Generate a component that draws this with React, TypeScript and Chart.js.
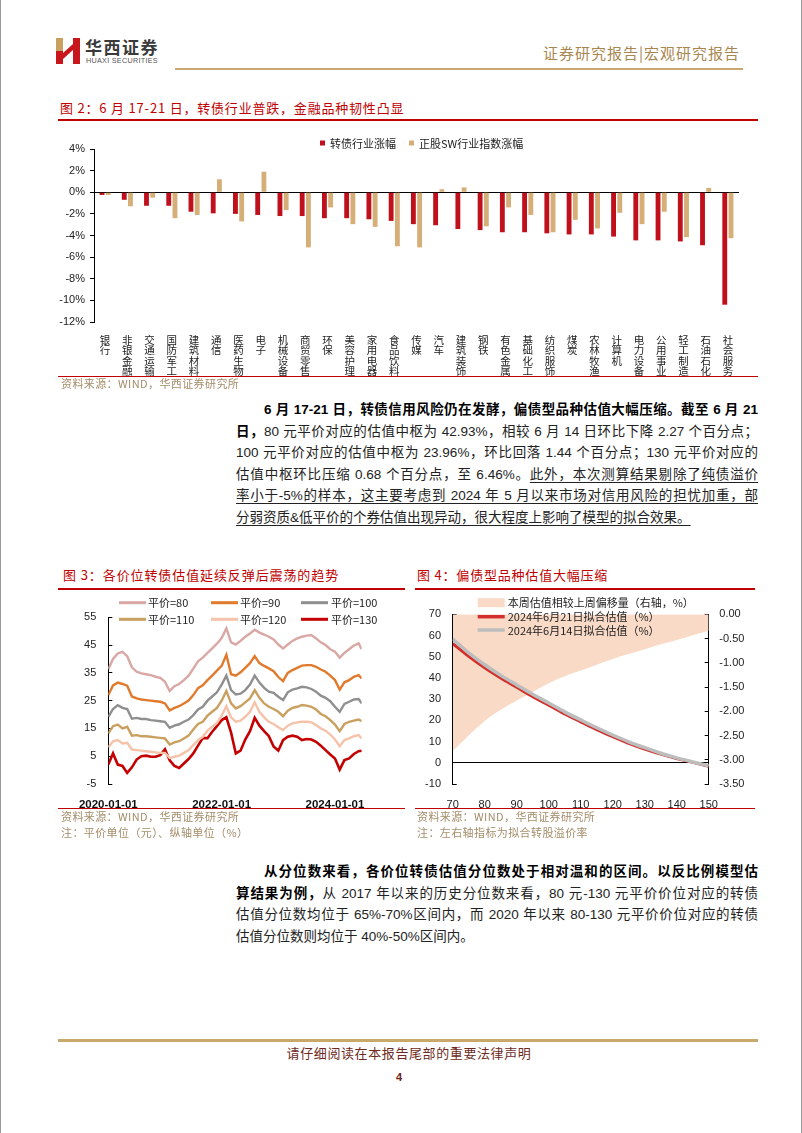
import React, { useEffect, useRef } from 'react';
import { Chart, registerables } from 'chart.js';

Chart.register(...registerables);

const FONT = "'Liberation Sans', 'Noto Sans CJK SC', sans-serif";
const CJK = "'Noto Sans CJK SC', 'Liberation Sans', sans-serif";

// ---------------- Figure 2 data ----------------
const industries = ['银行', '非银金融', '交通运输', '国防军工', '建筑材料', '通信', '医药生物', '电子', '机械设备', '商贸零售', '环保', '美容护理', '家用电器', '食品饮料', '传媒', '汽车', '建筑装饰', '钢铁', '有色金属', '基础化工', '纺织服饰', '煤炭', '农林牧渔', '计算机', '电力设备', '公用事业', '轻工制造', '石油石化', '社会服务'];
const cbChange = [-0.25, -0.7, -1.25, -1.25, -1.8, -1.95, -2.0, -2.1, -2.2, -2.2, -2.4, -2.4, -2.5, -2.65, -2.95, -3.05, -3.4, -3.5, -3.7, -3.7, -3.8, -3.9, -3.9, -4.1, -4.45, -4.45, -4.55, -4.9, -10.4];
const stockChange = [-0.25, -1.3, -0.5, -2.4, -2.1, 1.2, -2.7, 1.9, -1.65, -5.1, -1.4, -2.95, -3.2, -5.0, -5.1, 0.28, 0.45, -3.15, -1.4, -2.1, -3.7, -2.55, -3.35, -1.9, -2.95, -1.8, -4.15, 0.4, -4.25];
const fig2Series = ['转债行业涨幅', '正股SW行业指数涨幅'];

// ---------------- Figure 3 data ----------------
const dates3: string[] = [];
for (let y = 2020; y <= 2024; y++) {
  for (let m = 1; m <= 12; m++) {
    if (y === 2024 && m > 6) break;
    dates3.push(`${y}-${String(m).padStart(2, '0')}-01`);
  }
}
dates3.push('2024-06-21');
const fig3Series = ['平价=80', '平价=90', '平价=100', '平价=110', '平价=120', '平价=130'];
const val80 = [36.3, 40, 42, 42.6, 41, 37, 35.4, 34.8, 34.5, 34.2, 33.6, 33.2, 31.8, 28.5, 30.2, 31, 32.4, 34, 36.5, 39.2, 40.5, 42.2, 43.8, 45.5, 47.5, 51, 46, 45.2, 46.5, 48, 49.2, 50.5, 49.5, 48.8, 48, 47, 45.2, 43.8, 45.2, 46.5, 47.4, 48, 48.4, 48.6, 47.4, 46, 45, 43.5, 42.6, 40.5, 42.2, 43.5, 44.8, 45.6, 43.5];
const val90 = [27, 30.5, 31.5, 31, 30.4, 26.5, 25.8, 25.4, 25.2, 25, 24.8, 24.6, 24, 21.5, 22.4, 23, 24, 25, 27, 29.5, 30.5, 32.4, 34, 35.8, 37.5, 41.5, 34.5, 34, 35.2, 36.8, 38.5, 41, 38.5, 37.5, 36.6, 35.6, 33.5, 32, 35, 36, 36.8, 37.6, 37.8, 37.8, 37.2, 36.2, 35.4, 34, 32.4, 29, 31.6, 32.4, 33.6, 34.2, 33];
const val100 = [19.2, 22, 23.4, 22.4, 22, 18.5, 18.8, 18.4, 18.4, 18, 17.8, 17.6, 17.4, 15.2, 16, 16.5, 17.4, 18.2, 19.8, 21.8, 22.8, 25, 26.5, 28, 30.8, 34, 28.8, 27.2, 27.5, 28.8, 30.8, 34, 31.5, 29.6, 28.2, 27.8, 26.4, 25.2, 28, 29, 29.4, 30, 29.8, 29.2, 28.2, 26.8, 26, 24.8, 22.8, 21, 23.8, 24.6, 25.4, 25.6, 24];
const val110 = [13.2, 15.8, 16.4, 15, 15.6, 12.4, 12.6, 12.2, 12.2, 12, 11.8, 11.6, 11.4, 9.2, 10, 10.4, 11.4, 12.4, 14.6, 16.6, 17.4, 19.6, 21, 22.4, 25, 28.5, 24, 22.2, 23, 24.4, 25.8, 28.8, 26, 24, 22.8, 22, 21, 19.4, 21.4, 22.4, 22.8, 23.4, 23.2, 22.8, 21.8, 20.2, 19.4, 18, 16.4, 14, 16.6, 17.4, 17.8, 18.2, 17.6];
const val120 = [8.2, 10.4, 10.8, 9.6, 9.8, 7.4, 7.2, 7, 6.8, 6.6, 6.4, 6.2, 6.2, 4.4, 4.8, 5.2, 6.2, 7.2, 9, 10.8, 12, 14.2, 15.6, 17, 19.6, 23, 19, 17.4, 17.8, 19.2, 21, 24.4, 21, 19, 17.4, 16.6, 15.4, 14.4, 16, 16.8, 17.2, 17.4, 17.4, 17.2, 16.2, 15, 14.2, 12.8, 11, 8.6, 10.8, 11.4, 12.2, 12.6, 11.4];
const val130 = [2, 6, 2, 1.5, -1, 1, 3.8, 5, 5.2, 4.8, 4.8, 5.4, 7.5, 3.5, 1.5, 0.8, 2.4, 4, 6, 8.8, 11.5, 11.5, 13.8, 15.8, 18, 19, 13.5, 6, 7, 11, 14, 18.8, 16, 14, 12.2, 8.5, 7, 10.8, 12, 12.4, 12, 10.8, 11.2, 11, 10.2, 8.8, 7.2, 5.6, 4.2, 0.2, 3.6, 4.2, 5.8, 6.8, 7];
const xTickYears3 = [2020, 2022, 2024];

// ---------------- Figure 4 data ----------------
const parity4 = [70, 75, 80, 85, 90, 95, 100, 105, 110, 115, 120, 125, 130, 135, 140, 145, 150];
const shiftWeek = [-2.82, -2.5, -2.2, -1.97, -1.78, -1.6, -1.42, -1.28, -1.16, -1.04, -0.92, -0.82, -0.72, -0.62, -0.53, -0.43, -0.34];
const fit0621 = [56.2, 50.2, 44.8, 40, 35.6, 31.2, 27.2, 23, 19.3, 15.6, 12.3, 9.2, 6.5, 4.1, 2.0, 0.2, -1.6];
const fit0614 = [58.3, 51.8, 46.2, 41.2, 36.7, 32.3, 28.2, 24, 20.2, 16.5, 13.1, 9.9, 7.1, 4.5, 2.3, 0.4, -1.4];
const fig4Series = ['本周估值相较上周偏移量（右轴，%）', '2024年6月21日拟合估值（%）', '2024年6月14日拟合估值（%）'];

const toYear = (s: string) => {
  const [y, m, d] = s.split('-').map(Number);
  return y + (m - 1) / 12 + (d - 1) / 365;
};

const overlayLegend = {
  id: 'overlayLegend',
  afterDraw(chart: any, _a: any, opts: any) {
    const items = opts && opts.items;
    if (!items) return;
    const ctx = chart.ctx;
    ctx.save();
    ctx.font = opts.fontStr;
    ctx.textBaseline = 'middle';
    ctx.textAlign = 'left';
    for (let i = 0; i < items.length; i++) {
      const it = items[i];
      const ds = chart.data.datasets[it.index];
      ctx.fillStyle = it.kind === 'line' ? ds.borderColor : ds.backgroundColor;
      ctx.fillRect(it.x, it.y - it.h / 2, it.w, it.h);
      ctx.fillStyle = opts.color;
      ctx.fillText(ds.label, it.x + it.w + it.gap, it.y + 0.5);
    }
    ctx.restore();
  },
};

const zeroLine = (c: any) => (c.tick && c.tick.value === 0 ? '#000' : 'rgba(0,0,0,0)');

const fig2Config = (): any => ({
  type: 'bar',
  data: {
    labels: industries.map((s) => s.split('')),
    datasets: [
      { label: fig2Series[0], data: cbChange, backgroundColor: '#c0101c', categoryPercentage: 0.56, barPercentage: 0.78 },
      { label: fig2Series[1], data: stockChange, backgroundColor: '#d5ae78', categoryPercentage: 0.56, barPercentage: 0.78 },
    ],
  },
  options: {
    responsive: false,
    animation: false,
    events: [],
    layout: { padding: { top: 16, right: 9, left: 0, bottom: 0 } },
    plugins: {
      legend: { display: false },
      tooltip: { enabled: false },
      overlayLegend: {
        fontStr: `11px ${CJK}`,
        color: '#222',
        items: [
          { index: 0, kind: 'rect', x: 262, y: 10, w: 5, h: 5, gap: 5 },
          { index: 1, kind: 'rect', x: 351, y: 10, w: 5, h: 5, gap: 5 },
        ],
      },
    },
    scales: {
      x: {
        grid: { display: false },
        border: { display: false },
        ticks: { autoSkip: false, maxRotation: 0, minRotation: 0, padding: 5, color: '#222', font: { family: CJK, size: 10.5, lineHeight: 0.98 } },
        afterFit: (s: any) => { s.height = 56; },
      },
      y: {
        min: -12,
        max: 4,
        ticks: { stepSize: 2, padding: 5, color: '#222', font: { family: FONT, size: 11 }, callback: (v: any) => `${v}%` },
        grid: { color: zeroLine, tickColor: '#000', tickLength: 4 },
        border: { color: '#000' },
        afterFit: (s: any) => { s.width = 36; },
      },
    },
  },
  plugins: [overlayLegend],
});

const colors3 = ['#d9a7a4', '#e07a2c', '#8f8f8f', '#c9a060', '#f5c3aa', '#c40000'];

const fig3Config = (): any => {
  const xs = dates3.map(toYear);
  const all = [val80, val90, val100, val110, val120, val130];
  return {
    type: 'line',
    data: {
      datasets: all.map((vals, i) => ({
        label: fig3Series[i],
        data: vals.map((v, j) => ({ x: xs[j], y: v })),
        borderColor: colors3[i],
        backgroundColor: colors3[i],
        borderWidth: i === 5 ? 2.6 : 2.4,
        pointRadius: 0,
        tension: 0,
      })),
    },
    options: {
      responsive: false,
      animation: false,
      events: [],
      layout: { padding: { top: 25.3, right: 36.3, left: 0, bottom: 0 } },
      plugins: {
        legend: { display: false },
        tooltip: { enabled: false },
        overlayLegend: {
          fontStr: `11px ${CJK}`,
          color: '#222',
          items: [
            { index: 0, kind: 'line', x: 61, y: 10.7, w: 27, h: 3, gap: 2 },
            { index: 1, kind: 'line', x: 153, y: 10.7, w: 27, h: 3, gap: 2 },
            { index: 2, kind: 'line', x: 243, y: 10.7, w: 27, h: 3, gap: 3 },
            { index: 3, kind: 'line', x: 61, y: 27.3, w: 27, h: 3, gap: 2 },
            { index: 4, kind: 'line', x: 153, y: 27.3, w: 27, h: 3, gap: 2 },
            { index: 5, kind: 'line', x: 243, y: 27.3, w: 27, h: 3, gap: 3 },
          ],
        },
      },
      scales: {
        x: {
          type: 'linear',
          min: xs[0],
          max: xs[xs.length - 1],
          afterBuildTicks: (s: any) => { s.ticks = xTickYears3.map((v) => ({ value: v })); },
          ticks: { padding: 6, color: '#111', font: { family: FONT, size: 11.5, weight: 'bold' }, callback: (v: any) => `${v}-01-01` },
          grid: { display: false },
          border: { display: false },
          afterFit: (s: any) => { s.height = 26; },
        },
        y: {
          min: -5,
          max: 55,
          ticks: { stepSize: 10, padding: 16, color: '#222', font: { family: FONT, size: 11 } },
          grid: { color: zeroLine, tickColor: '#000', tickLength: -4 },
          border: { color: '#000' },
          afterFit: (s: any) => { s.width = 50.3; },
        },
      },
    },
    plugins: [overlayLegend],
  };
};

const fig4Config = (): any => ({
  type: 'line',
  data: {
    datasets: [
      {
        label: fig4Series[0],
        data: parity4.map((x, i) => ({ x, y: shiftWeek[i] })),
        yAxisID: 'y1',
        fill: 'end',
        backgroundColor: '#f9dac7',
        borderColor: 'rgba(0,0,0,0)',
        borderWidth: 0,
        pointRadius: 0,
        cubicInterpolationMode: 'monotone',
        order: 3,
      },
      {
        label: fig4Series[1],
        data: parity4.map((x, i) => ({ x, y: fit0621[i] })),
        yAxisID: 'y',
        borderColor: '#d2302c',
        backgroundColor: '#d2302c',
        borderWidth: 3,
        pointRadius: 0,
        cubicInterpolationMode: 'monotone',
        order: 2,
      },
      {
        label: fig4Series[2],
        data: parity4.map((x, i) => ({ x, y: fit0614[i] })),
        yAxisID: 'y',
        borderColor: '#bdbdbd',
        backgroundColor: '#bdbdbd',
        borderWidth: 3.5,
        pointRadius: 0,
        cubicInterpolationMode: 'monotone',
        order: 1,
      },
    ],
  },
  options: {
    responsive: false,
    animation: false,
    events: [],
    layout: { padding: { top: 21.3, right: 0, left: 0, bottom: 0 } },
    plugins: {
      legend: { display: false },
      tooltip: { enabled: false },
      overlayLegend: {
        fontStr: `11px ${CJK}`,
        color: '#222',
        items: [
          { index: 0, kind: 'rect', x: 68.7, y: 10.7, w: 27, h: 9, gap: 3 },
          { index: 1, kind: 'line', x: 68.7, y: 24.7, w: 27, h: 3.5, gap: 3 },
          { index: 2, kind: 'line', x: 68.7, y: 38, w: 27, h: 3.5, gap: 3 },
        ],
      },
    },
    scales: {
      x: {
        type: 'linear',
        min: 70,
        max: 150,
        ticks: { stepSize: 10, padding: 6, color: '#222', font: { family: FONT, size: 11 } },
        grid: { display: false },
        border: { display: false },
        afterFit: (s: any) => { s.height = 26; },
      },
      y: {
        position: 'left',
        min: -10,
        max: 70,
        ticks: { stepSize: 10, padding: 15.7, color: '#222', font: { family: FONT, size: 11 } },
        grid: { color: zeroLine, tickColor: '#000', tickLength: -4 },
        border: { color: '#000' },
        afterFit: (s: any) => { s.width = 43.7; },
      },
      y1: {
        position: 'right',
        min: -3.5,
        max: 0,
        ticks: { stepSize: 0.5, padding: 14.6, color: '#222', font: { family: FONT, size: 11 }, callback: (v: any) => Number(v).toFixed(2) },
        grid: { drawOnChartArea: false, tickColor: '#000', tickLength: -4 },
        border: { color: '#000' },
        afterFit: (s: any) => { s.width = 40.3; },
      },
    },
  },
  plugins: [overlayLegend],
});

function ChartBox({ left, top, width, height, build }: { left: number; top: number; width: number; height: number; build: () => any }) {
  const ref = useRef<HTMLCanvasElement>(null);
  useEffect(() => {
    const chart = new Chart(ref.current as HTMLCanvasElement, build());
    return () => chart.destroy();
  }, []);
  return <canvas ref={ref} width={width} height={height} style={{ position: 'absolute', left, top, width, height }} />;
}

function Txt({ x, y, size, color, children, weight, ls, family, align, w }: any) {
  const lh = size * 1.4;
  const style: any = {
    position: 'absolute',
    top: y - lh / 2,
    height: lh,
    lineHeight: `${lh}px`,
    fontSize: size,
    color,
    fontWeight: weight || 400,
    letterSpacing: ls || 0,
    fontFamily: family || CJK,
    whiteSpace: 'nowrap',
  };
  if (align === 'right') { style.right = 802 - x; style.textAlign = 'right'; }
  else if (align === 'center') { style.left = x - (w || 300) / 2; style.width = w || 300; style.textAlign = 'center'; }
  else style.left = x;
  return <div style={style}>{children}</div>;
}

const Rule = ({ x, y, w, h, c }: any) => <div style={{ position: 'absolute', left: x, top: y, width: w, height: h, background: c }} />;

const LH = 21.5;
function PLine({ children, last, indent }: any) {
  return (
    <div style={{ height: LH, lineHeight: `${LH}px`, textAlign: 'justify', textAlignLast: last ? 'left' : 'justify', textIndent: indent ? 28 : 0 } as any}>
      {children}
    </div>
  );
}

const B = ({ children }: any) => <span style={{ fontWeight: 700, color: '#000' }}>{children}</span>;
const U = ({ children }: any) => <span style={{ textDecoration: 'underline', textUnderlineOffset: 3, textDecorationThickness: 1 } as any}>{children}</span>;

const RED = '#c00000';
const GOLDLINE = '#c9a86e';
const SRC = '#a48d6a';

export default function App() {
  return (
    <div style={{ position: 'absolute', left: 0, top: 0, width: 802, height: 1133, background: '#fff', overflow: 'hidden', fontFamily: FONT, borderLeft: '1px solid #9a9a9a', borderRight: '1px solid #9a9a9a', boxSizing: 'border-box' }}>
      {/* header */}
      <svg style={{ position: 'absolute', left: 55, top: 38 }} width={24} height={26} viewBox="0 0 24 26">
        <rect x={0} y={0} width={7} height={13} fill="#c9a060" />
        <rect x={0} y={13} width={7} height={13} fill="#c8161d" />
        <polygon points="7,15 17,6 17,12 7,21" fill="#c8161d" />
        <rect x={17} y={0} width={7} height={26} fill="#c8161d" />
      </svg>
      <Txt x={84} y={47} size={17} color="#3a3a3a" weight={700} ls={1.5}>华西证券</Txt>
      <Txt x={85} y={61} size={7.2} color="#555" family={FONT} ls={0.3}>HUAXI SECURITIES</Txt>
      <Txt x={741} y={52} size={15} color="#a8864f" ls={1} align="right">证券研究报告|宏观研究报告</Txt>
      <Rule x={174} y={68} w={568} h={2} c={GOLDLINE} />

      {/* figure 2 */}
      <Txt x={59} y={108} size={13} color={RED} ls={0.8}>图 2：6 月 17-21 日，转债行业普跌，金融品种韧性凸显</Txt>
      <Rule x={57} y={119} w={700} h={1.5} c={RED} />
      <ChartBox left={57} top={133} width={690} height={245} build={fig2Config} />
      <Rule x={57} y={376} w={700} h={1.2} c={RED} />
      <Txt x={60} y={384} size={11} color={SRC} ls={0.4}>资料来源：WIND，华西证券研究所</Txt>

      {/* paragraph 1 */}
      <div style={{ position: 'absolute', left: 235, top: 410 - LH / 2, width: 522, fontSize: 13.5, color: '#222', fontFamily: FONT }}>
        <PLine indent><B>6 月 17-21 日，转债信用风险仍在发酵，偏债型品种估值大幅压缩。截至 6 月 21</B></PLine>
        <PLine><B>日，</B>80 元平价对应的估值中枢为 42.93%，相较 6 月 14 日环比下降 2.27 个百分点；</PLine>
        <PLine>100 元平价对应的估值中枢为 23.96%，环比回落 1.44 个百分点；130 元平价对应的</PLine>
        <PLine>估值中枢环比压缩 0.68 个百分点，至 6.46%。<U>此外，本次测算结果剔除了纯债溢价</U></PLine>
        <PLine><U>率小于-5%的样本，这主要考虑到 2024 年 5 月以来市场对信用风险的担忧加重，部</U></PLine>
        <PLine last><U>分弱资质&amp;低平价的个券估值出现异动，很大程度上影响了模型的拟合效果。</U></PLine>
      </div>

      {/* figure 3 */}
      <Txt x={62} y={575} size={13} color={RED} ls={0.9}>图 3：各价位转债估值延续反弹后震荡的趋势</Txt>
      <Rule x={57} y={588} w={347} h={1.5} c={RED} />
      <ChartBox left={57} top={592} width={340} height={218} build={fig3Config} />
      <Rule x={57} y={808} w={347} h={1.2} c={RED} />
      <Txt x={60} y={817} size={11} color={SRC} ls={0.4}>资料来源：WIND，华西证券研究所</Txt>
      <Txt x={60} y={833} size={11} color={SRC} ls={0.4}>注：平价单位（元）、纵轴单位（%）</Txt>

      {/* figure 4 */}
      <Txt x={416} y={575} size={13} color={RED} ls={0.8}>图 4：偏债型品种估值大幅压缩</Txt>
      <Rule x={414} y={588} w={340} h={1.5} c={RED} />
      <ChartBox left={408} top={592} width={340} height={218} build={fig4Config} />
      <Rule x={414} y={808} w={340} h={1.2} c={RED} />
      <Txt x={416} y={817} size={11} color={SRC} ls={0.4}>资料来源：WIND，华西证券研究所</Txt>
      <Txt x={416} y={833} size={11} color={SRC} ls={0.4}>注：左右轴指标为拟合转股溢价率</Txt>

      {/* paragraph 2 */}
      <div style={{ position: 'absolute', left: 235, top: 872 - LH / 2, width: 522, fontSize: 13.5, color: '#222', fontFamily: FONT }}>
        <PLine indent><B>从分位数来看，各价位转债估值分位数处于相对温和的区间。以反比例模型估</B></PLine>
        <PLine><B>算结果为例，</B>从 2017 年以来的历史分位数来看，80 元-130 元平价价位对应的转债</PLine>
        <PLine>估值分位数均位于 65%-70%区间内，而 2020 年以来 80-130 元平价价位对应的转债</PLine>
        <PLine last>估值分位数则均位于 40%-50%区间内。</PLine>
      </div>

      {/* footer */}
      <Rule x={57} y={1039} w={700} h={2.5} c={GOLDLINE} />
      <Txt x={408} y={1053} size={13} color="#6e2a22" ls={0.6} align="center" w={320}>请仔细阅读在本报告尾部的重要法律声明</Txt>
      <Txt x={398} y={1078} size={11} color="#6e2020" weight={700} family={FONT} align="center" w={40}>4</Txt>
    </div>
  );
}
